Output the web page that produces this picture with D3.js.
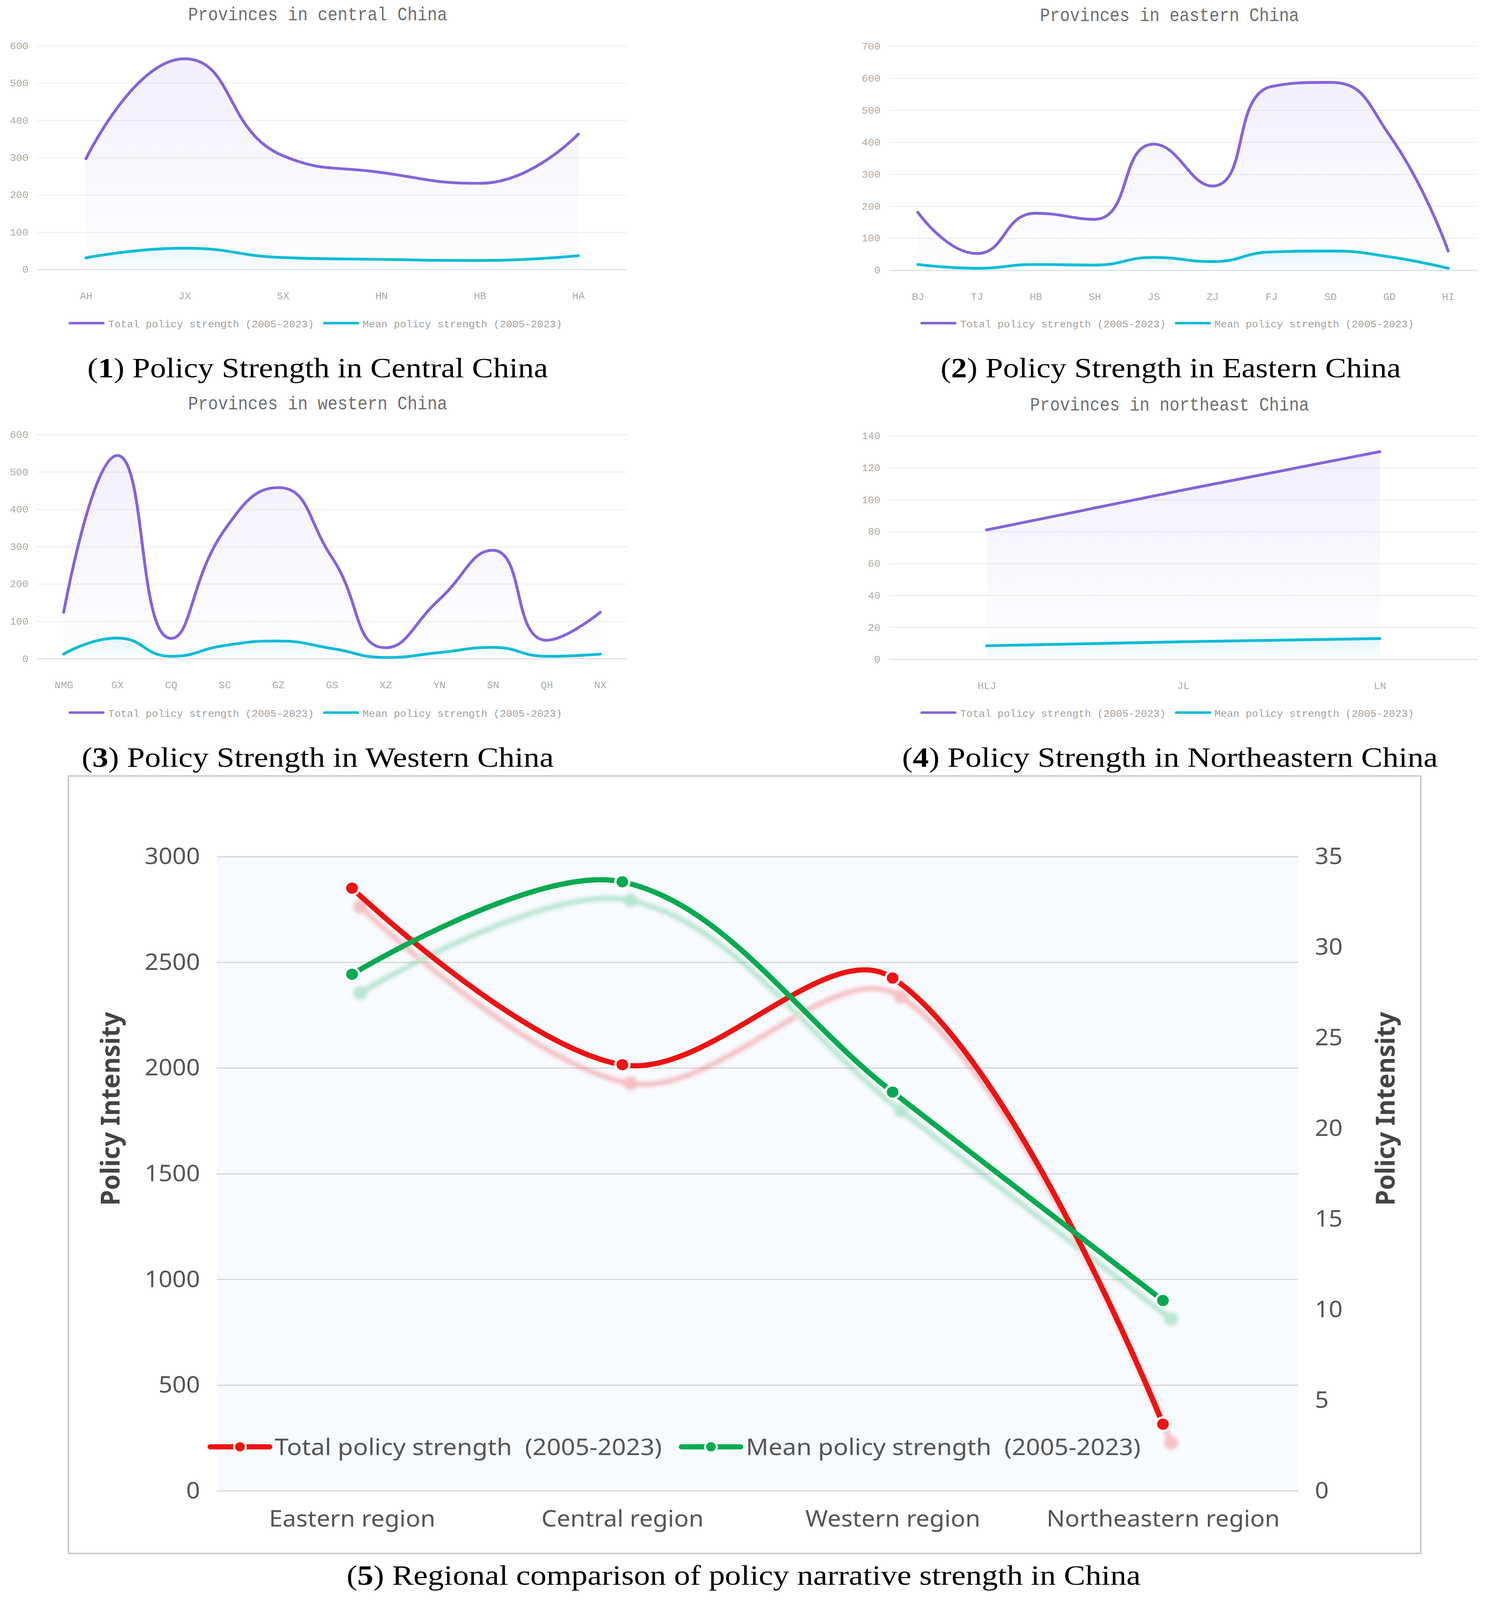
<!DOCTYPE html>
<html>
<head>
<meta charset="utf-8">
<title>Policy strength</title>
<script src="https://cdn.jsdelivr.net/npm/d3@7"></script>
<style>
    html, body { margin: 0; background: #fff; height: 100%; overflow: hidden; }
    #chart { width: 100vw; height: 100vh; }
    svg { display: block; }
    .mono { font-family: "Liberation Mono", monospace; }
    .cap { font-family: "Liberation Serif", serif; fill: #000; }
    .sans { font-family: "Noto Sans", sans-serif; }
</style>
</head>
<body>
<div id="chart"></div>
<script>
// dados
const centralCats = ["AH", "JX", "SX", "HN", "HB", "HA"];
const centralTotal = [297, 565, 305, 260, 231, 363];
const centralMean = [31, 57, 32, 27, 24, 37];
const centralTicks = [0, 100, 200, 300, 400, 500, 600];

const easternCats = ["BJ", "TJ", "HB", "SH", "JS", "ZJ", "FJ", "SD", "GD", "HI"];
const easternTotal = [181, 52, 178, 159, 394, 263, 574, 587, 423, 60];
const easternMean = [18, 6, 18, 16, 40, 27, 57, 60, 42, 6];
const easternTicks = [0, 100, 200, 300, 400, 500, 600, 700];

const westernCats = ["NMG", "GX", "CQ", "SC", "GZ", "GS", "XZ", "YN", "SN", "QH", "NX"];
const westernTotal = [124, 544, 54, 345, 458, 271, 29, 158, 290, 49, 124];
const westernMean = [12, 55, 6, 35, 47, 27, 3, 16, 30, 6, 12];
const westernTicks = [0, 100, 200, 300, 400, 500, 600];

const northeastCats = ["HLJ", "JL", "LN"];
const northeastTotal = [81, 106, 130];
const northeastMean = [8.5, 11, 13];
const northeastTicks = [0, 20, 40, 60, 80, 100, 120, 140];

const regionCats = ["Eastern region", "Central region", "Western region", "Northeastern region"];
const regionTotal = [2850, 2015, 2425, 315];
const regionMean = [28.5, 33.6, 22, 10.5];
const regionTicksLeft = [0, 500, 1000, 1500, 2000, 2500, 3000];
const regionTicksRight = [0, 5, 10, 15, 20, 25, 30, 35];

const totalLabel = "Total policy strength (2005-2023)";
const meanLabel = "Mean policy strength (2005-2023)";

const purple = "#8562dc";
const teal = "#0cbcd6";
const red = "#ee1212";
const green = "#05aa50";

// a janela pode ser mais baixa que a figura: o viewBox estica para a ocupar toda
const svg = d3.select("#chart").append("svg")
    .attr("width", "100%")
    .attr("height", "100%")
    .attr("viewBox", "0 0 3808 4293")
    .attr("preserveAspectRatio", "none");

const defs = svg.append("defs");

function gradiente(id, cor, alfa) {
    const g = defs.append("linearGradient").attr("id", id)
        .attr("x1", 0).attr("y1", 0).attr("x2", 0).attr("y2", 1);
    g.append("stop").attr("offset", "0%").attr("stop-color", cor).attr("stop-opacity", alfa);
    g.append("stop").attr("offset", "100%").attr("stop-color", cor).attr("stop-opacity", 0.01);
}
gradiente("fillPurple", purple, 0.1);
gradiente("fillTeal", teal, 0.1);

defs.append("filter").attr("id", "blur")
    .attr("x", "-10%").attr("y", "-10%").attr("width", "120%").attr("height", "120%")
    .append("feGaussianBlur").attr("stdDeviation", 5);

// curva suave ao estilo do ECharts; com limitar=true os pontos de controlo nao passam dos vizinhos
function curvaSuave(smooth, limitar) {
    const limita = (v, a, b) => limitar ? Math.max(Math.min(v, Math.max(a, b)), Math.min(a, b)) : v;
    return function(context) {
        let pts = [];
        let emArea = false, linhaN = 0;
        return {
            areaStart() { emArea = true; linhaN = 0; },
            areaEnd() { emArea = false; context.closePath(); },
            lineStart() { pts = []; },
            point(x, y) { pts.push([+x, +y]); },
            lineEnd() {
                if (!pts.length) return;
                if (emArea && linhaN > 0) context.lineTo(pts[0][0], pts[0][1]);
                else context.moveTo(pts[0][0], pts[0][1]);
                linhaN++;
                let cp0 = pts[0];
                for (let i = 1; i < pts.length; i++) {
                    const [px, py] = pts[i - 1];
                    const [x, y] = pts[i];
                    let cp1 = [x, y], proximo = [x, y];
                    if (i < pts.length - 1) {
                        const [nx, ny] = pts[i + 1];
                        const lenA = Math.hypot(x - px, y - py);
                        const lenB = Math.hypot(nx - x, ny - y);
                        const r = lenB / (lenA + lenB);
                        const ax = limita(x + (nx - px) * smooth * r, nx, x);
                        const ay = limita(y + (ny - py) * smooth * r, ny, y);
                        const bx = limita(x - (ax - x) * lenA / lenB, px, x);
                        const by = limita(y - (ay - y) * lenA / lenB, py, y);
                        cp1 = [bx, by];
                        proximo = [x + (x - bx) * lenB / lenA, y + (y - by) * lenB / lenA];
                    }
                    context.bezierCurveTo(cp0[0], cp0[1], cp1[0], cp1[1], x, y);
                    cp0 = proximo;
                }
            }
        };
    };
}

// legenda do titulo com o numero a negrito
function legendaFigura(num, resto, cx, cy, largura) {
    const t = svg.append("text").attr("class", "cap")
        .attr("x", cx).attr("y", cy + 24)
        .attr("text-anchor", "middle")
        .attr("font-size", 76)
        .attr("textLength", largura)
        .attr("lengthAdjust", "spacingAndGlyphs");
    t.append("tspan").text("(");
    t.append("tspan").attr("font-weight", "bold").text(num);
    t.append("tspan").text(") " + resto);
}

function painel(p) {
    const g = svg.append("g");
    const x = d3.scalePoint().domain(p.cats).range(p.xRange);
    const y = d3.scaleLinear().domain([p.ticks[0], p.ticks[p.ticks.length - 1]]).range([p.y0, p.yTop]);

    g.append("text").attr("class", "mono")
        .attr("transform", `translate(${p.titleX},${p.titleY + 15}) scale(1,1.18)`)
        .attr("text-anchor", "middle")
        .attr("font-size", 42.5)
        .attr("fill", "#6e6e6e")
        .text(p.title);

    // Eixo Y + grelha
    const eixoY = g.append("g")
        .attr("transform", `translate(${p.gridL},0)`)
        .call(d3.axisLeft(y).tickValues(p.ticks).tickSize(-(p.gridR - p.gridL)).tickPadding(22));
    eixoY.select(".domain").remove();
    eixoY.selectAll("line").attr("stroke", d => d === 0 ? "#e0e0e0" : "#f0f0f0").attr("stroke-width", 3);
    eixoY.selectAll("text").attr("class", "mono").attr("font-size", 26.6).attr("fill", "#aaa");

    // Eixo X
    const eixoX = g.append("g")
        .attr("transform", `translate(0,${p.y0})`)
        .call(d3.axisBottom(x).tickSize(0).tickPadding(61));
    eixoX.select(".domain").remove();
    eixoX.selectAll("text").attr("class", "mono").attr("font-size", 26.6).attr("fill", "#aaa");

    const curva = curvaSuave(0.5, true);
    const area = d3.area().x((d, i) => x(p.cats[i])).y0(p.y0).y1(d => y(d)).curve(curva);
    const linha = d3.line().x((d, i) => x(p.cats[i])).y(d => y(d)).curve(curva);

    g.append("path").datum(p.total).attr("d", area).attr("fill", "url(#fillPurple)");
    g.append("path").datum(p.mean).attr("d", area).attr("fill", "url(#fillTeal)");
    g.append("path").datum(p.total).attr("d", linha).attr("fill", "none")
        .attr("stroke", purple).attr("stroke-width", 7.5).attr("stroke-linecap", "round");
    g.append("path").datum(p.mean).attr("d", linha).attr("fill", "none")
        .attr("stroke", teal).attr("stroke-width", 7.5).attr("stroke-linecap", "round");

    // legenda
    const lx = p.legendX;
    const itens = [
        { cor: purple, texto: totalLabel, x0: lx, x1: lx + 85, tx: lx + 98 },
        { cor: teal, texto: meanLabel, x0: lx + 651, x1: lx + 737, tx: lx + 749 }
    ];
    itens.forEach(d => {
        g.append("line").attr("x1", d.x0).attr("x2", d.x1)
            .attr("y1", p.legendY - 2).attr("y2", p.legendY - 2)
            .attr("stroke", d.cor).attr("stroke-width", 7).attr("stroke-linecap", "round");
        g.append("text").attr("class", "mono")
            .attr("x", d.tx).attr("y", p.legendY + 9)
            .attr("font-size", 26.6).attr("fill", "#a0a0a0")
            .text(d.texto);
    });
}

painel({
    cats: centralCats, total: centralTotal, mean: centralMean, ticks: centralTicks,
    title: "Provinces in central China", titleX: 813, titleY: 39,
    xRange: [220, 1480], gridL: 95, gridR: 1604, y0: 723, yTop: 122.6,
    legendX: 179, legendY: 869
});
painel({
    cats: easternCats, total: easternTotal, mean: easternMean, ticks: easternTicks,
    title: "Provinces in eastern China", titleX: 2993, titleY: 41.5,
    xRange: [2349, 3706], gridL: 2275, gridR: 3782, y0: 725, yTop: 124,
    legendX: 2359, legendY: 869
});
painel({
    cats: westernCats, total: westernTotal, mean: westernMean, ticks: westernTicks,
    title: "Provinces in western China", titleX: 813, titleY: 1083.5,
    xRange: [163, 1536], gridL: 95, gridR: 1604, y0: 1767, yTop: 1166,
    legendX: 179, legendY: 1914
});
painel({
    cats: northeastCats, total: northeastTotal, mean: northeastMean, ticks: northeastTicks,
    title: "Provinces in northeast China", titleX: 2993, titleY: 1087,
    xRange: [2525, 3531], gridL: 2275, gridR: 3782, y0: 1769, yTop: 1169,
    legendX: 2359, legendY: 1914
});

legendaFigura("1", "Policy Strength in Central China", 813, 988, 1179);
legendaFigura("2", "Policy Strength in Eastern China", 2996, 988, 1178);
legendaFigura("3", "Policy Strength in Western China", 813, 2033, 1208);
legendaFigura("4", "Policy Strength in Northeastern China", 2994, 2033, 1371);
legendaFigura("5", "Regional comparison of policy narrative strength in China", 1903, 4228, 2032);

// Grafico 5: comparacao regional
const frame = { l: 175, t: 2082, r: 3636, b: 4168 };
const plot = { l: 555, r: 3322, t: 2298, b: 4000 };

svg.append("rect")
    .attr("x", frame.l).attr("y", frame.t)
    .attr("width", frame.r - frame.l).attr("height", frame.b - frame.t)
    .attr("fill", "#fff").attr("stroke", "#c9c9c9").attr("stroke-width", 4);
svg.append("rect")
    .attr("x", plot.l).attr("y", plot.t)
    .attr("width", plot.r - plot.l).attr("height", plot.b - plot.t)
    .attr("fill", "#f7fafe");

const x5 = d3.scalePoint().domain(regionCats).range([plot.l, plot.r]).padding(0.5);
const yLeft = d3.scaleLinear().domain([0, 3000]).range([plot.b, plot.t]);
const yRight = d3.scaleLinear().domain([0, 35]).range([plot.b, plot.t]);

const eixoEsq = svg.append("g").attr("transform", `translate(${plot.l},0)`)
    .call(d3.axisLeft(yLeft).tickValues(regionTicksLeft).tickFormat(d3.format("d")).tickSize(-(plot.r - plot.l)).tickPadding(43));
eixoEsq.select(".domain").remove();
eixoEsq.selectAll("line").attr("stroke", "#d4d4da").attr("stroke-width", 3);

const eixoDir = svg.append("g").attr("transform", `translate(${plot.r},0)`)
    .call(d3.axisRight(yRight).tickValues(regionTicksRight).tickSize(0).tickPadding(43));
eixoDir.select(".domain").remove();

const eixoBaixo = svg.append("g").attr("transform", `translate(0,${plot.b})`)
    .call(d3.axisBottom(x5).tickSize(0).tickPadding(52));
eixoBaixo.select(".domain").remove();

[eixoEsq, eixoDir, eixoBaixo].forEach(e => {
    e.selectAll("text").attr("class", "sans").attr("font-size", 62).attr("fill", "#555");
});

[{ x: 284 }, { x: 3547 }].forEach(d => {
    svg.append("text").attr("class", "sans")
        .attr("transform", `translate(${d.x + 22},2975) rotate(-90)`)
        .attr("text-anchor", "middle")
        .attr("font-size", 66).attr("font-weight", "bold").attr("fill", "#444")
        .attr("textLength", 520).attr("lengthAdjust", "spacingAndGlyphs")
        .text("Policy Intensity");
});

const series5 = [
    { valores: regionTotal, escala: yLeft, cor: red },
    { valores: regionMean, escala: yRight, cor: green }
];

// sombra desfocada por baixo das linhas
const sombra = svg.append("g")
    .attr("transform", "translate(21,50)")
    .attr("opacity", 0.25)
    .attr("filter", "url(#blur)");

function desenhaSerie(alvo, s, comAnel) {
    const linha = d3.line().x((d, i) => x5(regionCats[i])).y(d => s.escala(d)).curve(curvaSuave(0.35, false));
    alvo.append("path").datum(s.valores).attr("d", linha).attr("fill", "none")
        .attr("stroke", s.cor).attr("stroke-width", 14);
    alvo.selectAll(null).data(s.valores).enter().append("circle")
        .attr("cx", (d, i) => x5(regionCats[i]))
        .attr("cy", d => s.escala(d))
        .attr("r", 18)
        .attr("fill", s.cor)
        .attr("stroke", comAnel ? "#fff" : "none")
        .attr("stroke-width", 6);
}

series5.forEach(s => desenhaSerie(sombra, s, false));
const linhas5 = svg.append("g");
series5.forEach(s => desenhaSerie(linhas5, s, true));

// legenda do grafico 5
const legenda5 = [
    { cor: red, x0: 538, x1: 690, tx: 703, texto: "Total policy strength  (2005-2023)", larg: 991 },
    { cor: green, x0: 1744, x1: 1895, tx: 1909, texto: "Mean policy strength  (2005-2023)", larg: 1010 }
];
legenda5.forEach(d => {
    svg.append("line").attr("x1", d.x0).attr("x2", d.x1).attr("y1", 3882).attr("y2", 3882)
        .attr("stroke", d.cor).attr("stroke-width", 14).attr("stroke-linecap", "round");
    svg.append("circle").attr("cx", (d.x0 + d.x1) / 2).attr("cy", 3882).attr("r", 15)
        .attr("fill", d.cor).attr("stroke", "#fff").attr("stroke-width", 5);
    svg.append("text").attr("class", "sans")
        .attr("x", d.tx).attr("y", 3904)
        .attr("font-size", 62).attr("fill", "#555")
        .attr("textLength", d.larg).attr("lengthAdjust", "spacingAndGlyphs")
        .style("white-space", "pre")
        .text(d.texto);
});
</script>
</body>
</html>
